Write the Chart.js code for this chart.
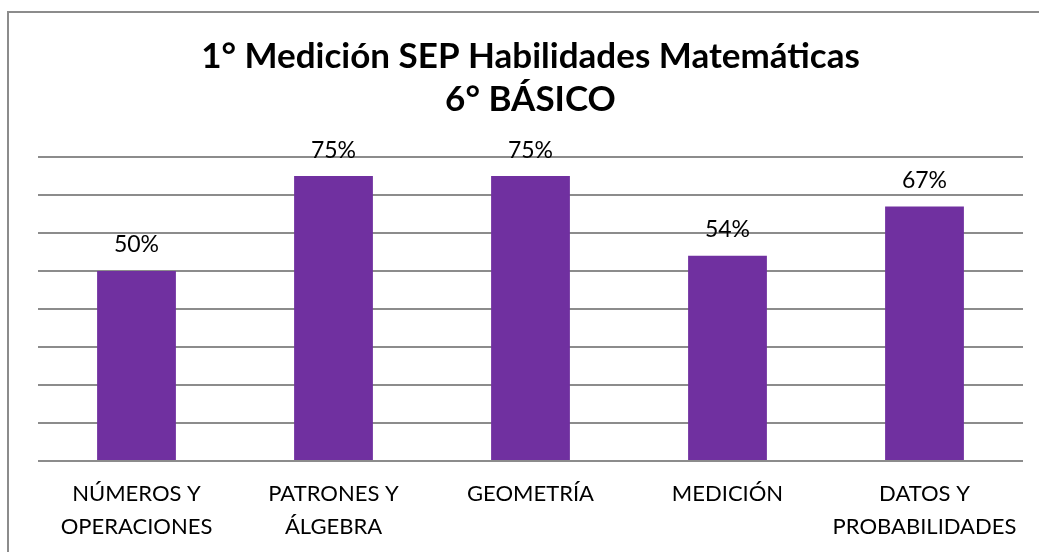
<!DOCTYPE html>
<html>
<head>
<meta charset="utf-8">
<script src="https://cdn.jsdelivr.net/npm/chart.js@4/dist/chart.umd.min.js"></script>
<style>
  html, body { margin: 0; padding: 0; background: #fff; }
  #wrap { position: relative; width: 1039px; height: 552px; overflow: hidden; }
  #frame { position: absolute; left: 7px; top: 11px; width: 1040px; height: 560px;
           border-left: 2px solid #8c8c8c; border-top: 2px solid #8c8c8c; box-sizing: border-box; }
  #chart { position: absolute; left: 0; top: 0; }
</style>
</head>
<body>
<div id="wrap">
  <div id="frame"></div>
  <canvas id="chart" width="1039" height="552"></canvas>
</div>
<script>
// chart data
const categories = [
  ['NÚMEROS Y', 'OPERACIONES'],
  ['PATRONES Y', 'ÁLGEBRA'],
  'GEOMETRÍA',
  'MEDICIÓN',
  ['DATOS Y', 'PROBABILIDADES']
];
const percentages = [50, 75, 75, 54, 67];
const titleLines = ['1° Medición SEP Habilidades Matemáticas', '6° BÁSICO'];

const fontFamily = 'Lato, "Open Sans", sans-serif';

// draws the value labels above each bar
const valueLabels = {
  id: 'valueLabels',
  afterDatasetsDraw(chart) {
    const ctx = chart.ctx;
    const meta = chart.getDatasetMeta(0);
    ctx.save();
    ctx.font = '23px ' + fontFamily;
    ctx.fillStyle = '#000';
    ctx.textAlign = 'center';
    ctx.textBaseline = 'middle';
    meta.data.forEach((bar, i) => {
      ctx.fillText(percentages[i] + '%', bar.x, bar.y - 26);
    });
    ctx.restore();
  }
};

new Chart(document.getElementById('chart'), {
  type: 'bar',
  data: {
    labels: categories,
    datasets: [{
      data: percentages,
      backgroundColor: '#7030A0',
      borderWidth: 0,
      categoryPercentage: 1,
      barPercentage: 0.4
    }]
  },
  options: {
    responsive: false,
    animation: false,
    layout: { padding: { left: 38, right: 16, top: 0, bottom: -8 } },
    plugins: {
      legend: { display: false },
      tooltip: { enabled: false },
      title: {
        display: true,
        text: titleLines,
        color: '#000',
        font: { family: fontFamily, size: 35, weight: 'bold', lineHeight: 1.23 },
        padding: { top: 35, bottom: 36 }
      }
    },
    scales: {
      x: {
        grid: { display: false, drawTicks: false },
        border: { display: false },
        ticks: {
          color: '#000',
          font: { family: fontFamily, size: 22, lineHeight: 1.5 },
          padding: 16.5,
          maxRotation: 0,
          autoSkip: false
        }
      },
      y: {
        min: 0,
        max: 80,
        ticks: { display: false, stepSize: 10 },
        grid: { color: '#8c8c8c', lineWidth: 2, drawTicks: false },
        border: { display: false }
      }
    }
  },
  plugins: [valueLabels]
});
</script>
</body>
</html>
